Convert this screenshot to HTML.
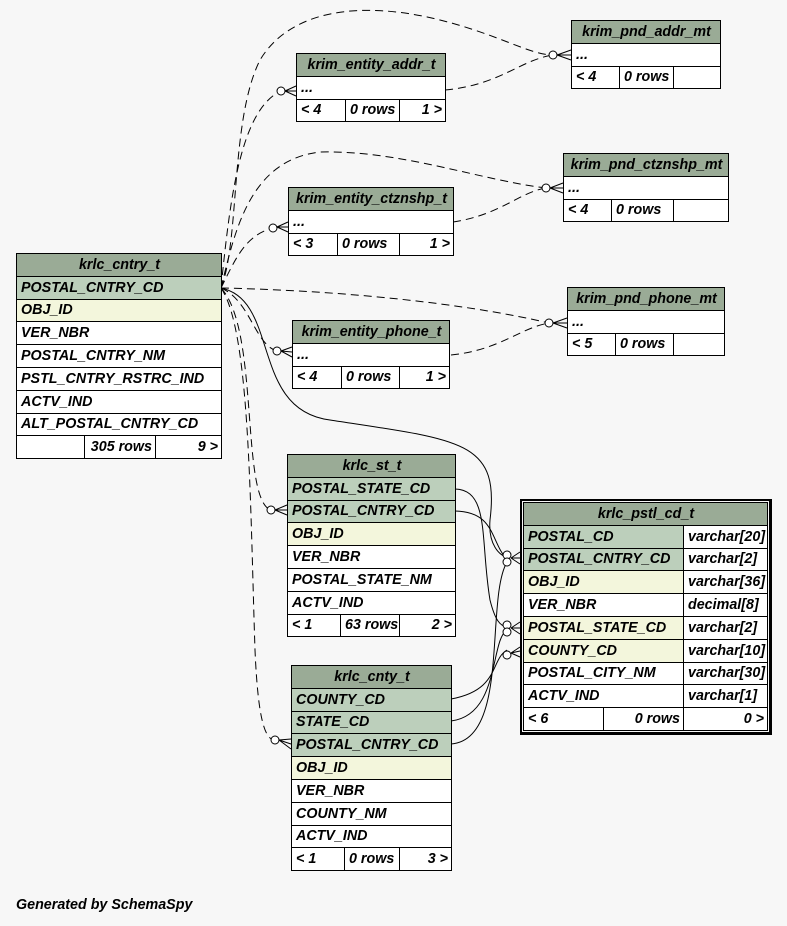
<!DOCTYPE html>
<html><head><meta charset="utf-8"><style>
body{margin:0;width:787px;height:926px;background:#f7f7f7;position:relative;overflow:hidden;font:italic bold 14.3px "Liberation Sans",sans-serif;}
table{position:absolute;border-collapse:collapse;table-layout:fixed;background:#fff;}
td{border:1px solid #000;padding:0 3px 0 4px;white-space:nowrap;overflow:hidden;line-height:20px;height:22.8px;box-sizing:border-box;}
.h{background:#9aab96;text-align:center;}
.k{background:#bccfbb;}
.i{background:#f3f6dc;}
.r{text-align:right;}
svg{position:absolute;left:0;top:0;}
.g{position:absolute;left:16px;top:897px;font-size:14.3px;}
</style></head><body>
<svg width="787" height="926" fill="none" stroke="#000" stroke-width="1">
<g stroke-dasharray="8,5">
<path d="M221,288 C240,240 230,120 260,60 C290,10 360,0 440,20 C500,35 530,55 553,55"/>
<path d="M221,288 C230,200 240,110 281,91"/>
<path d="M445,90 C500,85 520,60 553,55"/>
<path d="M221,288 C235,230 250,160 320,152 C400,150 480,180 546,188"/>
<path d="M221,288 C235,260 245,235 273,228"/>
<path d="M453,222 C500,215 520,192 546,188"/>
<path d="M221,288 C320,290 450,300 549,323"/>
<path d="M451,355 C500,350 520,328 549,323"/>
<path d="M221,288 C250,300 255,345 277,351"/>
<path d="M221,288 C260,330 240,500 271,510"/>
<path d="M221,288 C250,330 250,500 255,650 C258,720 265,740 275,740"/>
</g>
<path d="M221,288 C280,300 250,410 330,420 C460,440 500,440 490,520 C488,545 500,556 507,557"/>
<path d="M455,489 C490,490 480,540 490,600 C495,620 500,626 507,627"/>
<path d="M455,511 C495,512 490,540 507,560"/>
<path d="M451,699 C500,690 490,660 507,650"/>
<path d="M451,721 C500,715 490,640 507,630"/>
<path d="M451,744 C510,740 485,600 507,562"/>
<g fill="#fff">
<circle cx="553" cy="55" r="4"/><circle cx="281" cy="91" r="4"/><circle cx="546" cy="188" r="4"/><circle cx="273" cy="228" r="4"/>
<circle cx="549" cy="323" r="4"/><circle cx="277" cy="351" r="4"/><circle cx="271" cy="510" r="4"/><circle cx="275" cy="740" r="4"/>
<circle cx="507" cy="555" r="4"/><circle cx="507" cy="562" r="4"/><circle cx="507" cy="625" r="4"/><circle cx="507" cy="632" r="4"/><circle cx="507" cy="655" r="4"/>
</g>
<g>
<path d="M557,55 L571,50 M557,55 L571,55 M557,55 L571,60"/>
<path d="M285,91 L296,86 M285,91 L296,91 M285,91 L296,96"/>
<path d="M550,188 L563,183 M550,188 L563,188 M550,188 L563,193"/>
<path d="M277,227 L288,222 M277,227 L288,227 M277,227 L288,232"/>
<path d="M553,323 L567,318 M553,323 L567,323 M553,323 L567,328"/>
<path d="M281,351 L292,347 M281,351 L292,352 M281,351 L292,357"/>
<path d="M275,510 L287,505 M275,510 L287,510 M275,510 L287,515"/>
<path d="M279,740 L291,739 M279,740 L291,744 M279,740 L291,749"/>
<path d="M511,558 L520,552 M511,558 L520,558 M511,558 L520,564"/>
<path d="M511,628 L520,622 M511,628 L520,628 M511,628 L520,634"/>
<path d="M511,653 L520,647 M511,653 L520,651 M511,653 L520,657"/>
</g>
</svg>

<table style="left:16px;top:253px;width:206px"><colgroup><col style="width:68px"><col style="width:71px"><col></colgroup>
<tr><td colspan="3" class="h">krlc_cntry_t</td></tr>
<tr><td colspan="3" class="k">POSTAL_CNTRY_CD</td></tr>
<tr><td colspan="3" class="i">OBJ_ID</td></tr>
<tr><td colspan="3">VER_NBR</td></tr>
<tr><td colspan="3">POSTAL_CNTRY_NM</td></tr>
<tr><td colspan="3">PSTL_CNTRY_RSTRC_IND</td></tr>
<tr><td colspan="3">ACTV_IND</td></tr>
<tr><td colspan="3">ALT_POSTAL_CNTRY_CD</td></tr>
<tr><td></td><td class="r">305 rows</td><td class="r">9 &gt;</td></tr></table>

<table style="left:571px;top:20px;width:150px"><colgroup><col style="width:48px"><col style="width:54px"><col></colgroup>
<tr><td colspan="3" class="h">krim_pnd_addr_mt</td></tr><tr><td colspan="3">...</td></tr>
<tr><td>&lt; 4</td><td>0 rows</td><td></td></tr></table>

<table style="left:296px;top:53px;width:150px"><colgroup><col style="width:49px"><col style="width:54px"><col></colgroup>
<tr><td colspan="3" class="h">krim_entity_addr_t</td></tr><tr><td colspan="3">...</td></tr>
<tr><td>&lt; 4</td><td>0 rows</td><td class="r">1 &gt;</td></tr></table>

<table style="left:563px;top:153px;width:166px"><colgroup><col style="width:48px"><col style="width:62px"><col></colgroup>
<tr><td colspan="3" class="h">krim_pnd_ctznshp_mt</td></tr><tr><td colspan="3">...</td></tr>
<tr><td>&lt; 4</td><td>0 rows</td><td></td></tr></table>

<table style="left:288px;top:187px;width:166px"><colgroup><col style="width:49px"><col style="width:62px"><col></colgroup>
<tr><td colspan="3" class="h">krim_entity_ctznshp_t</td></tr><tr><td colspan="3">...</td></tr>
<tr><td>&lt; 3</td><td>0 rows</td><td class="r">1 &gt;</td></tr></table>

<table style="left:567px;top:287px;width:158px"><colgroup><col style="width:48px"><col style="width:58px"><col></colgroup>
<tr><td colspan="3" class="h">krim_pnd_phone_mt</td></tr><tr><td colspan="3">...</td></tr>
<tr><td>&lt; 5</td><td>0 rows</td><td></td></tr></table>

<table style="left:292px;top:320px;width:158px"><colgroup><col style="width:49px"><col style="width:58px"><col></colgroup>
<tr><td colspan="3" class="h">krim_entity_phone_t</td></tr><tr><td colspan="3">...</td></tr>
<tr><td>&lt; 4</td><td>0 rows</td><td class="r">1 &gt;</td></tr></table>

<table style="left:287px;top:454px;width:169px"><colgroup><col style="width:53px"><col style="width:59px"><col></colgroup>
<tr><td colspan="3" class="h">krlc_st_t</td></tr>
<tr><td colspan="3" class="k">POSTAL_STATE_CD</td></tr>
<tr><td colspan="3" class="k">POSTAL_CNTRY_CD</td></tr>
<tr><td colspan="3" class="i">OBJ_ID</td></tr>
<tr><td colspan="3">VER_NBR</td></tr>
<tr><td colspan="3">POSTAL_STATE_NM</td></tr>
<tr><td colspan="3">ACTV_IND</td></tr>
<tr><td>&lt; 1</td><td>63 rows</td><td class="r">2 &gt;</td></tr></table>

<table style="left:291px;top:665px;width:161px"><colgroup><col style="width:53px"><col style="width:55px"><col></colgroup>
<tr><td colspan="3" class="h">krlc_cnty_t</td></tr>
<tr><td colspan="3" class="k">COUNTY_CD</td></tr>
<tr><td colspan="3" class="k">STATE_CD</td></tr>
<tr><td colspan="3" class="k">POSTAL_CNTRY_CD</td></tr>
<tr><td colspan="3" class="i">OBJ_ID</td></tr>
<tr><td colspan="3">VER_NBR</td></tr>
<tr><td colspan="3">COUNTY_NM</td></tr>
<tr><td colspan="3">ACTV_IND</td></tr>
<tr><td>&lt; 1</td><td>0 rows</td><td class="r">3 &gt;</td></tr></table>

<div style="position:absolute;left:520px;top:499px;width:247px;height:231px;border:2px solid #000;border-right-width:3px;border-bottom-width:3px;"></div>
<table style="left:523px;top:502px;width:245px"><colgroup><col style="width:80px"><col style="width:80px"><col></colgroup>
<tr><td colspan="3" class="h">krlc_pstl_cd_t</td></tr>
<tr><td colspan="2" class="k">POSTAL_CD</td><td>varchar[20]</td></tr>
<tr><td colspan="2" class="k">POSTAL_CNTRY_CD</td><td>varchar[2]</td></tr>
<tr><td colspan="2" class="i">OBJ_ID</td><td>varchar[36]</td></tr>
<tr><td colspan="2">VER_NBR</td><td>decimal[8]</td></tr>
<tr><td colspan="2" class="i">POSTAL_STATE_CD</td><td>varchar[2]</td></tr>
<tr><td colspan="2" class="i">COUNTY_CD</td><td>varchar[10]</td></tr>
<tr><td colspan="2">POSTAL_CITY_NM</td><td>varchar[30]</td></tr>
<tr><td colspan="2">ACTV_IND</td><td>varchar[1]</td></tr>
<tr><td>&lt; 6</td><td class="r">0 rows</td><td class="r">0 &gt;</td></tr></table>

<div class="g">Generated by SchemaSpy</div>
</body></html>
